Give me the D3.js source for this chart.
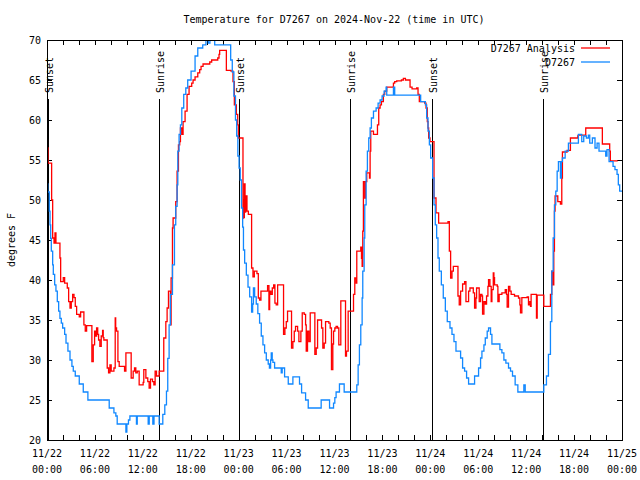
<!DOCTYPE html>
<html><head><meta charset="utf-8">
<script src="https://cdn.jsdelivr.net/npm/d3@7"></script>
<style>
body{margin:0;background:#fff;}
svg text{font-family:"DejaVu Sans Mono","Liberation Mono",monospace;font-size:10px;fill:#000;}
</style></head><body>
<svg id="chart" width="640" height="480"></svg>
<script>
// ---- data (hours since 2024-11-22 00:00 UTC, degrees F) ----
const obsHours = [0,0.1,0.29,0.38,0.46,0.54,0.71,0.79,0.96,1.12,1.29,1.46,1.62,1.79,1.96,2.21,2.38,2.62,2.88,3.12,3.29,3.54,4.04,4.54,5.12,7.79,8.38,8.62,8.79,9.88,10.0,10.2,10.38,11.2,11.3,12.67,12.8,13.25,13.4,14.04,14.5,14.75,14.96,15.12,15.29,15.46,15.71,15.96,16.12,16.29,16.38,16.54,16.71,16.88,17.12,17.38,17.62,18.04,18.54,18.88,19.5,19.9,20.2,20.4,21.0,23.0,23.2,23.4,23.6,23.75,23.9,24.05,24.2,24.35,24.5,24.6,24.75,24.96,25.17,25.38,25.62,25.75,25.85,26.0,26.2,26.4,26.62,26.83,27.04,27.25,27.46,27.7,27.85,28.0,28.08,28.2,28.29,28.5,29.12,29.33,29.45,29.75,30.21,30.79,31.5,31.62,31.88,32.38,32.71,34.33,35.38,35.88,36.04,36.2,36.62,37.21,38.71,38.79,38.96,39.12,39.29,39.46,39.54,39.71,39.79,39.96,40.12,40.29,40.46,40.62,40.88,41.21,41.46,41.71,41.96,42.21,42.46,42.54,43.38,43.54,46.79,47.38,47.54,47.71,47.88,48.04,48.29,48.46,48.62,48.79,48.96,49.12,49.38,49.62,49.88,50.12,50.46,50.71,50.96,51.21,51.79,52.04,52.29,52.54,52.79,53.54,54.04,54.29,54.46,54.71,54.88,55.12,55.29,55.54,55.71,56.71,56.96,57.21,57.46,57.79,58.04,58.29,58.62,58.96,59.71,59.88,62.21,62.54,62.79,63.04,63.21,63.38,63.54,63.71,63.88,64.04,64.29,64.4,64.54,64.88,65.29,66.54,66.96,67.21,67.54,67.79,67.96,68.29,68.62,68.88,69.12,69.96,70.12,70.38,70.88,71.12,71.38,71.54,71.71,72];
const obsTemps = [52,51,48.6,46.9,45.2,43.6,41.9,40.7,39.4,38.6,37.3,36.1,35.2,34.6,34,33.2,32.1,31.1,30,29.2,28.6,28,27,26,25,24,23.4,23,22,21,22,22.5,23,22,23,22,23,22,23,22,23.2,24.4,26.1,30.2,34.4,38.2,41.9,46.9,49.2,51.9,56.1,58.2,59.4,61.5,63.2,64,65,66.1,68,69,69.4,70.5,69.6,70.5,69.4,67.5,66,63,60,58,55.5,54,52.5,49,46.6,43.75,42.1,40.6,39.1,37.9,36,37,39,37.9,37,35.8,34.6,33,31.9,30.9,30,29.5,29,30,30.9,30,29.7,29,29,28.4,29,27.9,27,27.9,27.9,27,25.9,25,24,25,24,24.6,25.3,26,27,26,26,26.9,29.4,31.9,34.4,37.75,41.1,45.25,49.4,53.6,56.1,57.75,59,60.25,61.1,61.5,62.1,62.5,63,63.6,64.1,63.1,64.1,63.1,62.3,61.9,60.25,58.6,56.9,55.25,52.75,49.4,46.9,45.25,42.75,41.1,39.4,37.75,36.1,34.8,34,33.2,32.3,31.1,30.25,29,28.6,27.75,27,28,29,30.25,31.1,31.9,32.75,33.6,34,33.2,32,31.3,30.9,30,29.6,29,28.6,28,26.9,26,26.9,26,26.9,28,30.7,34.8,41.1,45.25,49.4,51.1,53.6,54.8,52.75,54.8,55.25,56.1,57.1,58.2,57.3,58,57.75,58.1,57.1,57.75,56.5,57.1,56.1,55.5,56.3,54.8,54.2,53.8,53.2,51.9,51.1,51.1];

const anaHours = [0,0.05,0.125,0.58,0.71,0.88,1.0,1.12,1.62,1.71,2.04,2.21,2.54,2.71,2.88,3.04,3.21,3.38,3.54,3.71,4.04,4.21,4.62,4.79,4.96,5.62,5.79,5.96,6.1,6.21,6.35,6.46,6.62,6.79,6.96,7.04,7.12,7.54,7.71,7.88,8.04,8.38,8.54,8.6,8.71,8.88,9.04,9.71,9.88,10.54,10.79,10.96,11.12,11.3,11.54,12.04,12.12,12.38,12.62,12.79,12.96,13.21,13.38,13.54,13.71,14.04,14.62,14.88,15.04,15.21,15.46,15.54,15.71,15.79,16.12,16.29,16.46,16.62,16.71,16.88,17.04,17.29,17.54,17.79,18.12,18.29,18.54,18.88,19.12,19.29,19.54,20.38,20.62,21.38,21.54,21.62,22.46,23.04,23.29,23.46,23.71,23.88,23.96,24.54,24.6,24.65,24.71,24.8,24.88,25.04,25.21,25.62,25.79,25.96,26.29,26.46,26.62,26.79,27.62,27.79,27.88,28.04,28.21,28.38,28.54,28.7,28.88,29.62,29.79,29.96,30.12,30.62,30.79,30.96,31.12,31.38,31.54,31.79,31.96,32.21,32.38,32.46,32.62,32.79,32.96,33.54,33.71,33.88,34.38,34.54,34.71,34.88,35.29,35.46,35.62,35.79,35.88,36.04,36.2,36.38,36.54,36.79,37.38,37.5,37.71,38.38,38.54,38.71,38.79,39.29,39.38,39.46,39.54,39.62,39.79,39.88,40.04,40.38,40.46,40.54,40.88,41.38,41.54,41.71,41.88,42.12,42.29,42.54,43.38,43.54,43.79,44.38,44.62,44.88,45.46,45.71,46.29,46.46,46.62,47.29,47.46,47.62,47.71,47.79,47.96,48.46,48.71,49.04,50.21,50.38,50.54,50.71,50.88,51.46,51.62,51.79,52.04,52.29,52.46,52.79,52.96,53.38,53.54,53.71,53.79,54.12,54.29,54.46,54.54,54.71,54.88,55.04,55.21,55.29,55.46,55.62,55.71,55.88,55.96,56.04,56.38,56.46,56.62,56.96,57.38,57.54,57.62,57.79,57.96,58.12,58.54,59.04,59.21,59.29,59.46,60.12,60.29,60.46,60.54,60.62,61.29,61.38,62.21,62.71,63.04,63.21,63.38,63.46,63.54,63.62,63.96,64.29,64.46,64.54,65.12,65.54,66.46,66.54,67.46,69.54,70.46,70.54,71.46];
const anaTemps = [57.5,56.5,54.6,50,45.25,44.6,45.9,44.6,42.75,39.8,40.3,39.6,39,37.3,36.5,37.3,38.2,37.8,36.7,35.7,35.4,36,34.4,33.6,34.3,29.8,31.9,33.6,33,34,33.2,32.5,31.7,33,33.7,32.8,32.5,29,28.4,29.4,28.6,29,35.25,34,33.6,29.8,29.2,28.6,30.9,27.75,28.6,29,28.4,28.6,26.9,27.2,28.8,27.75,27.3,26.5,27.6,27.3,26.9,28.6,28,28.6,32.75,34.8,36.5,38.6,34.4,40.25,46.5,47.75,49.8,53.6,56.9,57.3,59,58.2,59.8,61.1,63.2,64.2,64.6,65,65.4,65.9,66.3,66.7,67,67.25,67.5,67.75,68.2,68.7,66.2,66.1,64.8,61.9,60.7,59.4,57.75,47.75,50,47.8,52,48.5,50.5,48.6,48.2,41.5,40.4,41.1,40.8,37.75,37.5,38.6,39.3,36.3,38.6,38.2,39,39.4,37.1,36.9,39.4,33.2,34,34.8,36.1,31.5,32.3,33.6,34.2,33.6,32.3,33.6,35.9,35.7,34.4,31.1,33.6,32.3,35.9,30.7,31.5,35,34,31.5,32.1,34.8,34.6,34,28.8,32,33.6,34,34.2,34,31.9,37.4,30.5,31.1,36.1,38.2,40.25,39.6,43.6,44.1,42.7,41.7,46.1,52.3,50.25,52.3,53.4,52.75,56.1,58.6,58.2,59.4,61.5,61.9,62.3,63.2,63.6,64.1,64.6,64.8,64.9,65,65.2,65,64.1,63.9,64,63.2,62.3,62.1,61.5,59.8,59,57.75,57.3,50.25,48.4,47.1,47.3,43.6,40.25,41.1,41.7,38,36.9,38.6,39.5,39.8,37.3,38.6,39,38.4,36.5,37.75,39,37.3,38.2,38,35.75,37.3,37,38,39.2,40.05,39.2,37.3,38.8,40.9,40.3,39.4,39.2,37.3,38.2,38.4,38.8,38.2,36.6,39.2,38.6,38.2,38,37.75,36.9,35.9,37.8,37.9,36.9,37.3,36.7,38.2,35.25,38.1,36.7,36.7,38.2,41.1,39.4,43.6,48.6,50.5,49.8,49.5,52.75,56,56.2,57.75,58,58.1,59,57,56.1,54.9,54.9];

const sunHours  = [0.1, 14.0, 24.05, 38.0, 48.2, 62.1];
const sunLabels = ["Sunset","Sunrise","Sunset","Sunrise","Sunset","Sunrise"];
const yTicks = [20,25,30,35,40,45,50,55,60,65,70];
const seriesNames = ["D7267 Analysis","D7267"];
const seriesColors = ["#ff0000","#1188ff"];
const titleText = "Temperature for D7267 on 2024-Nov-22 (time in UTC)";
const yLabel = "degrees F";

// ---- chart ----
const base = Date.UTC(2024,10,22);
const toDate = h => new Date(base + h*3600e3);
const M = {left:47, right:622, top:40, bottom:440};
const svg = d3.select("#chart");
const x = d3.scaleUtc().domain([toDate(0), toDate(72)]).range([M.left, M.right]);
const y = d3.scaleLinear().domain([20,70]).range([M.bottom, M.top]);

svg.append("rect").attr("width",640).attr("height",480).attr("fill","#fff");

svg.append("clipPath").attr("id","clip").append("rect")
  .attr("x",M.left).attr("y",M.top).attr("width",M.right-M.left).attr("height",M.bottom-M.top);

const xTickVals = d3.range(0,73,2).map(toDate);
const fmtD = d3.utcFormat("%m/%d"), fmtT = d3.utcFormat("%H:%M");

const gx = svg.append("g").attr("transform",`translate(0,${M.bottom})`)
  .call(d3.axisBottom(x).tickValues(xTickVals).tickSizeInner(-5).tickSizeOuter(0).tickFormat(""));
const gxt = svg.append("g").attr("transform",`translate(0,${M.top})`)
  .call(d3.axisTop(x).tickValues(xTickVals).tickSizeInner(-5).tickSizeOuter(0).tickFormat(""));
const gy = svg.append("g").attr("transform",`translate(${M.left},0)`)
  .call(d3.axisLeft(y).tickValues(yTicks).tickSizeInner(-5).tickSizeOuter(0).tickFormat(""));
const gyr = svg.append("g").attr("transform",`translate(${M.right},0)`)
  .call(d3.axisRight(y).tickValues(yTicks).tickSizeInner(-5).tickSizeOuter(0).tickFormat(""));
[gx,gxt,gy,gyr].forEach(g=>{g.select(".domain").remove(); g.selectAll("line").attr("stroke","#000").attr("shape-rendering","crispEdges");});

// x labels every 6h
const labHours = d3.range(0,73,6);
labHours.forEach(h=>{
  const t = svg.append("text").attr("text-anchor","middle");
  t.append("tspan").attr("x",x(toDate(h))).attr("y",457).text(fmtD(toDate(h)));
  t.append("tspan").attr("x",x(toDate(h))).attr("y",473).text(fmtT(toDate(h)));
});
yTicks.forEach(v=>{
  svg.append("text").attr("x",41).attr("y",y(v)+4).attr("text-anchor","end").text(v);
});

// title and y label
svg.append("text").attr("x",334).attr("y",23).attr("text-anchor","middle").text(titleText);
svg.append("text").attr("transform","translate(15,240) rotate(-90)").attr("text-anchor","middle").text(yLabel);

// sunrise/sunset lines
sunHours.forEach((h,i)=>{
  const px = Math.round(x(toDate(h)))+0.5;
  svg.append("line").attr("x1",px).attr("x2",px).attr("y1",99).attr("y2",M.bottom)
    .attr("stroke","#000").attr("stroke-width",1);
  svg.append("text").attr("transform",`translate(${px+4},93) rotate(-90)`).attr("text-anchor","start").text(sunLabels[i]);
});

// series
const line = d3.line().x(d=>x(toDate(d[0]))).y(d=>y(d[1])).curve(d3.curveStepAfter);
const anaData = anaHours.map((h,i)=>[h,anaTemps[i]]);
const obsData = obsHours.map((h,i)=>[h,obsTemps[i]]);
const plot = svg.append("g").attr("clip-path","url(#clip)");
plot.append("path").datum(anaData).attr("d",line).attr("fill","none").attr("stroke",seriesColors[0]).attr("stroke-width",1.3);
plot.append("path").datum(obsData).attr("d",line).attr("fill","none").attr("stroke",seriesColors[1]).attr("stroke-width",1.3);

// frame
svg.append("rect").attr("x",M.left+0.5).attr("y",M.top+0.5).attr("width",M.right-M.left).attr("height",M.bottom-M.top)
  .attr("fill","none").attr("stroke","#000").attr("stroke-width",1);

// legend
seriesNames.forEach((n,i)=>{
  const ly = 48 + i*14;
  svg.append("text").attr("x",575).attr("y",ly+4).attr("text-anchor","end").text(n);
  svg.append("line").attr("x1",581).attr("x2",610).attr("y1",ly).attr("y2",ly)
    .attr("stroke",seriesColors[i]).attr("stroke-width",1.3);
});
</script>
</body></html>
